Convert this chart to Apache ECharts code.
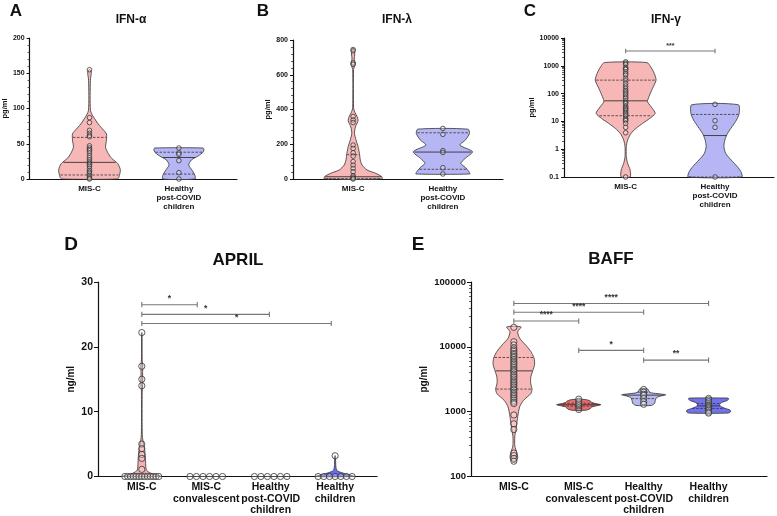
<!DOCTYPE html>
<html><head><meta charset="utf-8">
<script src="https://cdn.jsdelivr.net/npm/echarts@6/dist/echarts.min.js"></script>
<style>html,body{margin:0;padding:0;background:#fff}#c{width:777px;height:516px}</style>
</head><body><div id="c"></div><script>
const FONT = '"Liberation Sans", Arial, sans-serif';

// ---------- categories ----------
const catsTop = ['MIS-C', 'Healthy\npost-COVID\nchildren'];
const catsBottom = ['MIS-C', 'MIS-C\nconvalescent', 'Healthy\npost-COVID\nchildren', 'Healthy\nchildren'];

// ---------- A: IFN-α (pg/ml) ----------
const ifnAlphaMISC = [155, 87, 80, 69, 65, 62, 60, 47, 44, 42, 40, 37, 33, 30, 27, 24, 22, 20, 18, 15, 12, 10, 8, 5, 3, 1, 0];
const ifnAlphaHealthy = [44, 37, 35, 26, 9, 0];
const ifnAlphaViolinMISC = [[0,0.31],[3,0.33],[13,0.345],[22,0.315],[29,0.25],[36,0.21],[45,0.18],[55,0.19],[64,0.19],[69,0.16],[76,0.11],[86,0.055],[97,0.012],[140,0.01],[150,0.02],[153,0.018],[155,0.005]];
const ifnAlphaViolinHealthy = [[0,0.18],[5,0.18],[12,0.15],[20,0.11],[27,0.14],[33,0.22],[38,0.27],[42,0.28],[44,0.27]];
const ifnAlphaQuartiles = [[5.7, 23.6, 59], [7, 30.5, 38]];

// ---------- B: IFN-λ (pg/ml) ----------
const ifnLambdaMISC = [745, 738, 668, 660, 360, 340, 325, 195, 176, 151, 132, 100, 80, 61, 42, 19, 11, 4, 0];
const ifnLambdaHealthy = [291, 257, 163, 153, 65, 29];
const ifnLambdaViolinMISC = [[0,0.32],[13,0.32],[33,0.25],[52,0.155],[80,0.1],[109,0.08],[148,0.07],[186,0.055],[224,0.033],[262,0.015],[300,0.026],[335,0.055],[360,0.044],[385,0.018],[410,0.005],[630,0.005],[660,0.022],[690,0.012],[720,0.018],[745,0.008]];
const ifnLambdaViolinHealthy = [[29,0.3],[42,0.29],[67,0.25],[90,0.2],[119,0.25],[157,0.33],[195,0.19],[224,0.25],[262,0.296],[287,0.28]];
const ifnLambdaQuartiles = [[2, 13, 140], [56, 155, 266]];

// ---------- C: IFN-γ (pg/ml, log) ----------
const ifnGammaMISC = [1390, 1250, 1120, 870, 780, 740, 610, 520, 460, 350, 290, 230, 186, 153, 130, 116, 100, 88, 75, 67, 55, 48, 44, 36, 32, 29, 26, 24, 21, 19, 17, 15.5, 12.8, 11.5, 10.6, 8.5, 6.1, 3.9, 0.1];
const ifnGammaHealthy = [41, 10.6, 6.1, 0.1];
const ifnGammaViolinMISC = [[0.1,0.05],[0.178,0.05],[0.31,0.022],[0.54,0.007],[1.23,0.007],[2.13,0.022],[3.7,0.06],[5.6,0.115],[8.5,0.19],[12.8,0.27],[19.4,0.33],[29,0.3],[51,0.245],[77,0.26],[153,0.3],[305,0.34],[530,0.32],[920,0.28],[1310,0.237]];
const ifnGammaViolinHealthy = [[0.1,0.3],[0.155,0.29],[0.235,0.25],[0.41,0.18],[0.7,0.12],[1.23,0.1],[2.13,0.11],[3.7,0.14],[6.4,0.19],[11.2,0.24],[19.4,0.27],[39.7,0.26]];
const ifnGammaQuartiles = [[16, 55, 305], [0.1, 3.1, 17.8]];
const ifnGammaSig = [[0, 1, 3400]];
const ifnGammaSigLabels = ['***'];

// ---------- D: APRIL (ng/ml) ----------
const aprilMISC = [0,0,0,0,0,0,0,0,0,0,0,0,0, 22.2, 17, 15, 14, 5, 4.3, 3.4, 2.8, 1.1];
const aprilConv = [0,0,0,0,0,0];
const aprilPost = [0,0,0,0,0,0];
const aprilHealthy = [0,0,0,0,0,0,0, 3.2];
const aprilViolinMISC = [[0,0.3],[0.3,0.2],[0.6,0.12],[1,0.07],[2,0.06],[3,0.055],[4,0.045],[5,0.03],[6,0.01],[8,0.005],[13,0.006],[14.5,0.015],[16,0.012],[17,0.015],[18,0.006],[22.2,0.004]];
const aprilViolinHealthy = [[0,0.3],[0.3,0.2],[0.6,0.1],[0.9,0.03],[1.5,0.012],[3.2,0.005]];
const aprilSig = [[0, 0.86, 26.5], [0, 1.98, 25.0], [0, 2.94, 23.6]];
const aprilSigLabels = ['*', '*', '*'];

// ---------- E: BAFF (pg/ml, log) ----------
const baffMISC = [20000, 12000, 10700, 9600, 9000, 8500, 7900, 7600, 7100, 6800, 6400, 6000, 5700, 5400, 5100, 4800, 4500, 4300, 4100, 3800, 3600, 3400, 3200, 3000, 2850, 2700, 2550, 2400, 2250, 2150, 2000, 1900, 1800, 1700, 1600, 1500, 1400, 1330, 890, 650, 530, 230, 210, 190, 172];
const baffConv = [1080, 1150, 1230, 1290, 1350, 1450, 1560];
const baffPost = [2200, 2000, 1850, 1780, 1600, 1420, 1300];
const baffHealthy = [1600, 1520, 1420, 1330, 1250, 1200, 1150, 1100, 1050, 990, 950];
const baffViolinMISC = [[166,0.026],[197,0.06],[235,0.045],[297,0.015],[420,0.015],[594,0.04],[840,0.06],[1190,0.09],[1500,0.15],[1890,0.26],[2250,0.28],[2680,0.26],[3370,0.26],[4260,0.29],[5360,0.32],[6760,0.31],[8510,0.26],[10720,0.18],[13530,0.09],[17070,0.06],[20300,0.11]];
const baffViolinConv = [[1050,0.1],[1100,0.17],[1180,0.2],[1250,0.3],[1280,0.34],[1310,0.3],[1380,0.2],[1460,0.18],[1540,0.1]];
const baffViolinPost = [[1250,0.12],[1350,0.17],[1500,0.18],[1650,0.2],[1760,0.28],[1820,0.34],[1880,0.25],[1950,0.12],[2050,0.08],[2200,0.07],[2280,0.03]];
const baffViolinHealthy = [[950,0.3],[1000,0.34],[1060,0.33],[1120,0.26],[1200,0.19],[1280,0.17],[1380,0.2],[1480,0.28],[1560,0.31],[1620,0.3]];
const baffQuartiles = [[2230, 4260, 6850], [1220, 1280, 1350], [1590, 1800, 2000], [1120, 1230, 1335]];
const baffSig = [[0, 3, 46700], [0, 2, 34200], [0, 1, 25000], [1, 2, 8830], [2, 3, 6240]];
const baffSigLabels = ['****', '****', '****', '*', '**'];

// ---------- styling ----------
const PINK = '#f7b7b7', LAV = '#b6b6f5';
const panels = [
  { grid:{left:23, top:38, width:214, height:141}, xMin:-0.67, xMax:1.65, cats:catsTop, small:true,
    y:{type:'value', min:0, max:200, interval:50}, minor:true, yName:'pg/ml', nameGap:15,
    groups:[ifnAlphaMISC, ifnAlphaHealthy], violins:[ifnAlphaViolinMISC, ifnAlphaViolinHealthy],
    quart:ifnAlphaQuartiles, colors:[PINK, LAV], sig:[], sigLabels:[] },
  { grid:{left:293, top:40, width:210, height:139}, xMin:-0.67, xMax:1.67, cats:catsTop, small:true,
    y:{type:'value', min:0, max:800, interval:200}, minor:true, yName:'pg/ml', nameGap:18,
    groups:[ifnLambdaMISC, ifnLambdaHealthy], violins:[ifnLambdaViolinMISC, ifnLambdaViolinHealthy],
    quart:ifnLambdaQuartiles, colors:[PINK, LAV], sig:[], sigLabels:[] },
  { grid:{left:564, top:38, width:212, height:139}, xMin:-0.69, xMax:1.66, cats:catsTop, small:true,
    y:{type:'log', logBase:10, min:0.1, max:10000}, minor:true, yName:'pg/ml', nameGap:18, log:true,
    groups:[ifnGammaMISC, ifnGammaHealthy], violins:[ifnGammaViolinMISC, ifnGammaViolinHealthy],
    quart:ifnGammaQuartiles, colors:[PINK, LAV], sig:ifnGammaSig, sigLabels:ifnGammaSigLabels },
  { grid:{left:98, top:282, width:279, height:196}, xMin:-0.68, xMax:3.65, cats:catsBottom, small:false,
    y:{type:'value', min:0, max:30, interval:10}, minor:false, yName:'ng/ml', nameGap:22, spread:34,
    groups:[aprilMISC, aprilConv, aprilPost, aprilHealthy], violins:[aprilViolinMISC, null, null, aprilViolinHealthy],
    quart:[null, null, null, null], colors:['#f4b0b0', PINK, LAV, '#6c6cf0'], sig:aprilSig, sigLabels:aprilSigLabels },
  { grid:{left:471, top:282, width:296, height:199}, xMin:-0.66, xMax:3.9, cats:catsBottom, small:false,
    y:{type:'log', logBase:10, min:100, max:100000}, minor:true, yName:'pg/ml', nameGap:42, log:true,
    groups:[baffMISC, baffConv, baffPost, baffHealthy], violins:[baffViolinMISC, baffViolinConv, baffViolinPost, baffViolinHealthy],
    quart:baffQuartiles, colors:[PINK, '#e86c6c', '#b8b8ee', '#7272ee'], sig:baffSig, sigLabels:baffSigLabels }
];

function halfWidthAt(prof, v, log) {
  const f = log ? Math.log10 : (x => x);
  const t = f(v);
  if (t <= f(prof[0][0])) return prof[0][1];
  for (let j = 0; j < prof.length - 1; j++) {
    const a = f(prof[j][0]), b = f(prof[j+1][0]);
    if (t >= a && t <= b) { const u = b === a ? 0 : (t - a) / (b - a); return prof[j][1] + (prof[j+1][1] - prof[j][1]) * u; }
  }
  return prof[prof.length-1][1];
}

// horizontal spread of identical values (layout only)
function layoutPoints(vals, spreadPx, size) {
  const counts = {}, seen = {};
  vals.forEach(v => counts[v] = (counts[v] || 0) + 1);
  return vals.map(v => {
    const n = counts[v], k = (seen[v] = (seen[v] || 0) + 1) - 1;
    const step = n > 1 ? Math.min(size * 1.05, spreadPx / (n - 1)) : 0;
    return [v, (k - (n - 1) / 2) * step];
  });
}

const grids = [], xAxes = [], yAxes = [], series = [];
const yFmt = v => String(+Number(v).toPrecision(6));
panels.forEach((p, k) => {
  grids.push(p.grid);
  const cats = p.cats;
  xAxes.push({
    type:'value', gridIndex:k, min:p.xMin, max:p.xMax, interval:0.01,
    axisLine:{show:true, onZero:false, lineStyle:{color:'#111', width:1.2}},
    axisTick:{show:false}, splitLine:{show:false}, minorTick:{show:false},
    axisLabel:{show:true, margin:5, fontFamily:FONT, fontWeight:'bold', fontSize:p.small?8:10.5,
      lineHeight:p.small?9:11.5, color:'#111',
      formatter: v => { const r = Math.round(v); return (Math.abs(v - r) < 1e-6 && r >= 0 && r < cats.length) ? cats[r] : ''; } }
  });
  yAxes.push(Object.assign({
    gridIndex:k,
    axisLine:{show:true, onZero:false, lineStyle:{color:'#111', width:1.2}},
    axisTick:{show:true, length:p.small?3:4, lineStyle:{color:'#111', width:1}},
    minorTick:{show:p.minor, splitNumber:p.log?9:5, length:2, lineStyle:{color:'#333', width:0.8}},
    splitLine:{show:false}, minorSplitLine:{show:false},
    axisLabel:{fontFamily:FONT, fontWeight:'bold', fontSize:p.small?7:(p.log?9.5:10.5), color:'#111', margin:5, formatter:yFmt},
    name:p.yName, nameLocation:'middle', nameGap:p.nameGap,
    nameTextStyle:{fontFamily:FONT, fontWeight:'bold', fontSize:p.small?7.5:10, color:'#111'}
  }, p.y));

  // violins
  series.push({
    type:'custom', xAxisIndex:k, yAxisIndex:k, z:2, silent:true,
    data:p.violins.map((prof, i) => [i, prof ? prof[Math.floor(prof.length/2)][0] : (p.log ? p.y.min : 0)]),
    renderItem:(params, api) => {
      const i = params.dataIndex, prof = p.violins[i];
      if (!prof) return null;
      const pts = [];
      prof.forEach(([v, w]) => pts.push(api.coord([i + w, v])));
      for (let j = prof.length - 1; j >= 0; j--) pts.push(api.coord([i - prof[j][1], prof[j][0]]));
      return {type:'polygon', shape:{points:pts, smooth:0.25}, style:{fill:p.colors[i], stroke:'#333', lineWidth:0.8}};
    }
  });

  // quartile lines
  const qData = [];
  p.quart.forEach((q, i) => { if (q) { qData.push([i, q[0], 0]); qData.push([i, q[1], 1]); qData.push([i, q[2], 0]); } });
  series.push({
    type:'custom', xAxisIndex:k, yAxisIndex:k, z:3, silent:true, data:qData,
    renderItem:(params, api) => {
      const i = api.value(0), v = api.value(1), solid = api.value(2) === 1;
      const hw = halfWidthAt(p.violins[i], v, p.log) * 0.97;
      const a = api.coord([i - hw, v]), b = api.coord([i + hw, v]);
      return {type:'line', shape:{x1:a[0], y1:a[1], x2:b[0], y2:b[1]},
        style:{stroke:'#333', lineWidth:solid?0.9:0.8, lineDash:solid?null:[2.5, 1.5]}};
    }
  });

  // points
  const r = p.small ? 2.3 : 3.1;
  const ptData = [];
  p.groups.forEach((g, i) => layoutPoints(g, p.spread || 0, r * 2).forEach(([v, off]) => ptData.push([i, v, off])));
  series.push({
    type:'custom', xAxisIndex:k, yAxisIndex:k, z:4, silent:true, data:ptData,
    renderItem:(params, api) => {
      const c = api.coord([api.value(0), api.value(1)]);
      return {type:'circle', shape:{cx:c[0] + api.value(2), cy:c[1], r:r},
        style:{fill:'rgba(255,255,255,0.25)', stroke:'#333', lineWidth:0.8}};
    }
  });

  // significance bars
  if (p.sig.length) {
    series.push({
      type:'custom', xAxisIndex:k, yAxisIndex:k, z:5, silent:true,
      data:p.sig.map(s => [s[0], s[2], s[1]]),
      encode:{x:[0, 2], y:1},
      renderItem:(params, api) => {
        const a = api.coord([api.value(0), api.value(1)]), b = api.coord([api.value(2), api.value(1)]);
        const st = {stroke:'#777', lineWidth:1.1};
        const cap = p.small ? 2.2 : 2.6;
        return {type:'group', children:[
          {type:'line', shape:{x1:a[0], y1:a[1], x2:b[0], y2:b[1]}, style:st},
          {type:'line', shape:{x1:a[0], y1:a[1]-cap, x2:a[0], y2:a[1]+cap}, style:st},
          {type:'line', shape:{x1:b[0], y1:b[1]-cap, x2:b[0], y2:b[1]+cap}, style:st},
          {type:'text', style:{text:p.sigLabels[params.dataIndex], x:(a[0]+b[0])/2, y:a[1]-1.5,
            align:'center', verticalAlign:'bottom', font:'bold ' + (p.small?7:8.5) + 'px ' + FONT, fill:'#333'}}
        ]};
      }
    });
  }
});

function txt(text, x, y, size) {
  return {type:'text', x:x, y:y, silent:true,
    style:{text:text, font:'bold ' + size + 'px ' + FONT, fill:'#111', align:'center', verticalAlign:'middle',
      textAlign:'center', textVerticalAlign:'middle'}};
}

const option = {
  animation:false,
  backgroundColor:'#fff',
  grid:grids, xAxis:xAxes, yAxis:yAxes, series:series,
  graphic:[
    txt('A', 16, 11, 17), txt('B', 263, 11, 17), txt('C', 530, 11, 17),
    txt('D', 71, 245, 19), txt('E', 418, 245, 19),
    txt('IFN-α', 131, 20, 12), txt('IFN-λ', 397, 20, 12), txt('IFN-γ', 666, 20, 12),
    txt('APRIL', 238, 260, 17), txt('BAFF', 611, 259, 17)
  ]
};
const chart = echarts.init(document.getElementById('c'));
chart.setOption(option);
</script></body></html>
